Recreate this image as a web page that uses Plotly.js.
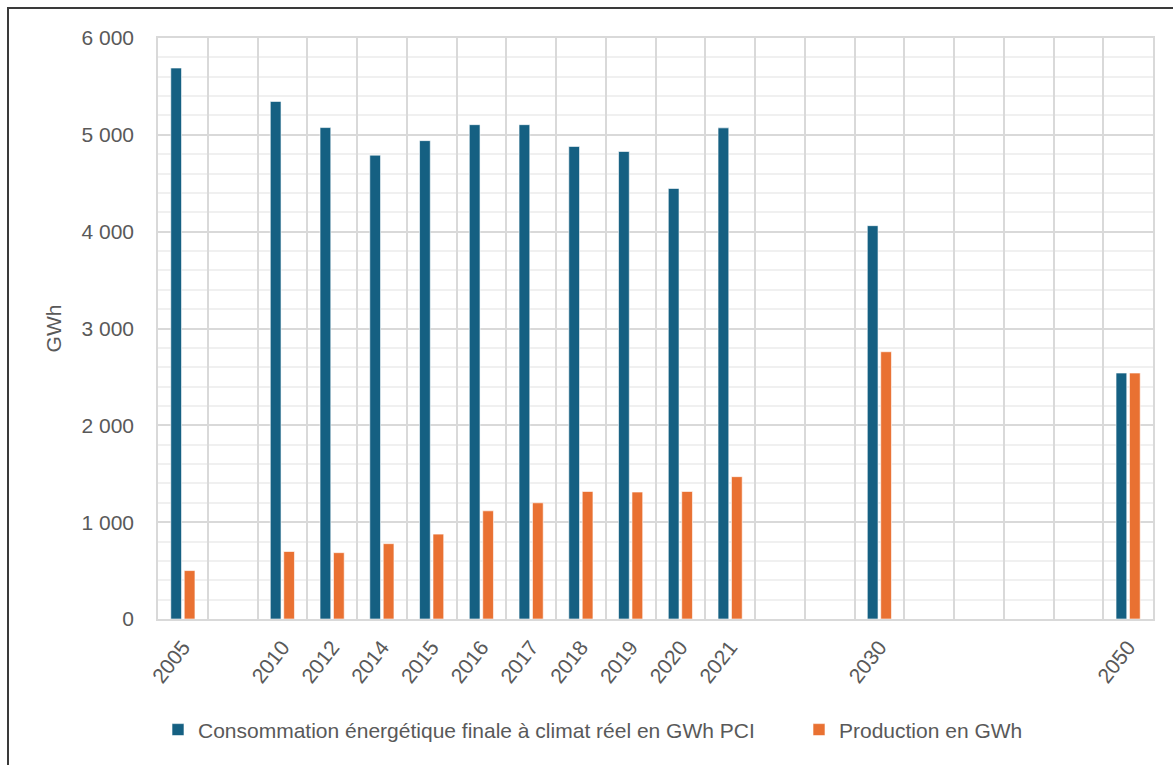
<!DOCTYPE html>
<html>
<head>
<meta charset="utf-8">
<script src="https://cdn.plot.ly/plotly-3.0.1.min.js"></script>
<style>
  html, body { margin:0; padding:0; background:#fff; }
  #chart { width:1173px; height:765px; position:absolute; left:0; top:0; }
  #frame { position:absolute; left:7px; top:7px; width:1200px; height:800px;
           border-top:2px solid #3a3a3a; border-left:2px solid #3a3a3a; pointer-events:none; }
</style>
</head>
<body>
<div id="chart"></div>
<div id="frame"></div>
<script>
// Categories (blank slots are kept as whitespace labels, as in the source chart)
const categories = ['2005', ' ', '2010', '2012', '2014', '2015', '2016', '2017', '2018', '2019', '2020', '2021',
                    '  ', '   ', '2030', '    ', '     ', '      ', '       ', '2050'];
const consommation = [5690, null, 5345, 5075, 4790, 4940, 5105, 5105, 4880, 4828, 4446, 5072,
                      null, null, 4062, null, null, null, null, 2540];
const production   = [500, null, 697, 685, 778, 877, 1117, 1200, 1317, 1311, 1317, 1470,
                      null, null, 2760, null, null, null, null, 2540];
const seriesNames = ['Consommation énergétique finale à climat réel en GWh PCI', 'Production en GWh'];
const yTickVals = [0, 1000, 2000, 3000, 4000, 5000, 6000];
const yTickText = ['0', '1 000', '2 000', '3 000', '4 000', '5 000', '6 000'];

const FONT = 'Liberation Sans, Arial, sans-serif';
const TXT = '#595959';

const traces = [
  { type:'bar', name:seriesNames[0], x:categories, y:consommation, legendwidth:596,
    marker:{ color:'#156082', line:{ color:'rgba(255,255,255,0.6)', width:1 } }, hoverinfo:'x+y' },
  { type:'bar', name:seriesNames[1], x:categories, y:production,
    marker:{ color:'#E97132', line:{ color:'rgba(255,255,255,0.6)', width:1 } }, hoverinfo:'x+y' }
];

const layout = {
  width:1173, height:765,
  margin:{ l:158, r:20, t:38, b:146 },
  paper_bgcolor:'#fff', plot_bgcolor:'#fff',
  font:{ family:FONT, color:TXT, size:20 },
  barmode:'group', bargap:0.46, bargroupgap:0.2,
  showlegend:true,
  legend:{ orientation:'h', x:0.0, xanchor:'left', y:-0.191, yanchor:'middle',
           font:{ family:FONT, size:21, color:TXT }, itemclick:false },
  xaxis:{
    type:'category', categoryorder:'array', categoryarray:categories,
    tickson:'boundaries', showgrid:true, gridcolor:'#d9d9d9', gridwidth:1.5,
    showline:true, linecolor:'#d9d9d9', linewidth:1.5, mirror:true,
    ticks:'', tickangle:-52, ticklabelstandoff:6, tickfont:{ family:FONT, size:21, color:TXT },
    automargin:false, fixedrange:true
  },
  yaxis:{
    range:[0, 6000], tickvals:yTickVals, ticktext:yTickText,
    showgrid:true, gridcolor:'#d9d9d9', gridwidth:1.5,
    minor:{ dtick:200, showgrid:true, gridcolor:'#f0f0f0', gridwidth:1.5 },
    showline:true, linecolor:'#d9d9d9', linewidth:1.5, mirror:true,
    zeroline:false, ticks:'', ticklabelstandoff:18,
    tickfont:{ family:FONT, size:21, color:TXT },
    title:{ text:'GWh', font:{ family:FONT, size:21, color:TXT }, standoff:14 },
    automargin:false, fixedrange:true
  }
};

Plotly.newPlot('chart', traces, layout, { displayModeBar:false });
</script>
</body>
</html>
